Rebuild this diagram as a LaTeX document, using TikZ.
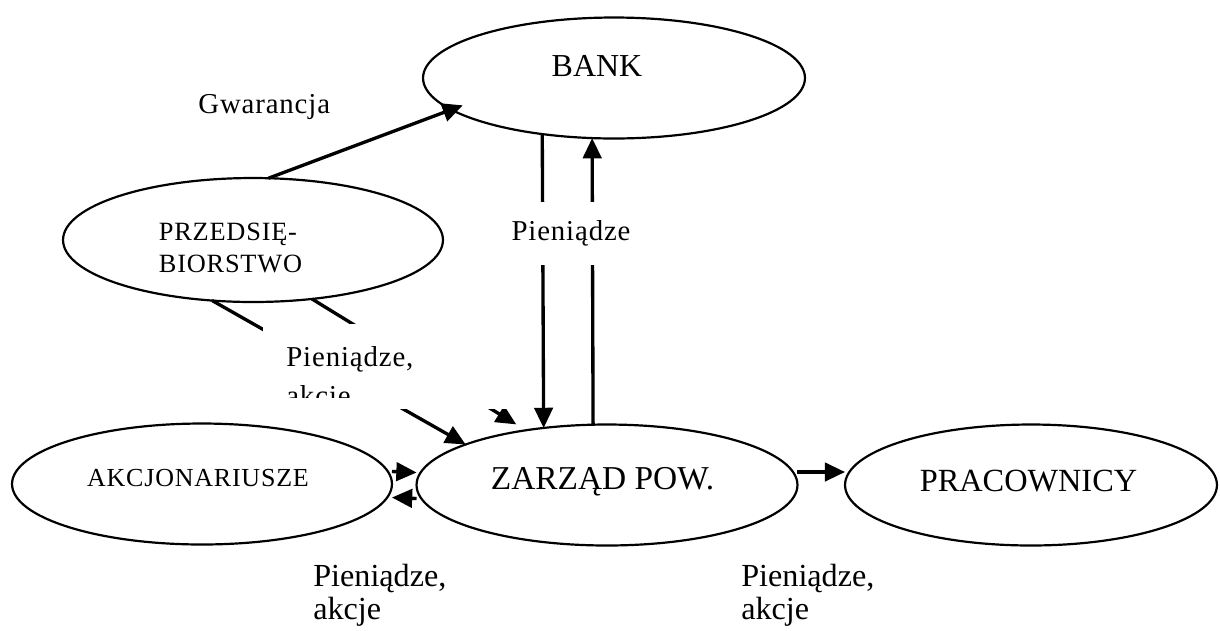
\documentclass[tikz,border=0pt]{standalone}
\usepackage{fontspec}
\setmainfont{Liberation Serif}
\newfontfamily\spaced[LetterSpace=3]{Liberation Serif}
\usetikzlibrary{shapes.geometric,arrows.meta}
\begin{document}
\begin{tikzpicture}[x=0.02cm,y=-0.02cm,
  ell/.style={draw, ellipse, line width=1.25pt, inner sep=0pt, outer sep=0pt},
  arr/.style={line width=1.9pt, -{Triangle[length=11.5pt,width=10.5pt]}},
  cov/.style={fill=white, inner sep=0pt},
  txt/.style={inner sep=0pt}]
\useasboundingbox (0,0) rectangle (1220,630);

% ellipses
\node[ell, minimum width=7.64cm, minimum height=2.42cm,
  label={[txt, font=\fontsize{18.2}{20}\selectfont, xshift=-0.34cm, yshift=0.24cm]center:BANK}] (bank) at (614,78) {};
\node[ell, minimum width=7.6cm, minimum height=2.48cm,
  label={[txt, align=left, font=\spaced\fontsize{15}{18.2}\selectfont, xshift=-0.45cm, yshift=-0.15cm]center:PRZEDSIĘ-\\BIORSTWO}] (przeds) at (253,240) {};
\node[ell, minimum width=7.6cm, minimum height=2.42cm,
  label={[txt, font=\spaced\fontsize{14.8}{16}\selectfont, xshift=-0.08cm, yshift=0.12cm]center:AKCJONARIUSZE}] (akcj) at (202,484) {};
\node[ell, minimum width=7.62cm, minimum height=2.42cm,
  label={[txt, font=\fontsize{19}{21}\selectfont, xshift=-0.09cm, yshift=0.06cm]center:ZARZĄD POW.}] (zarzad) at (607,485) {};
\node[ell, minimum width=7.44cm, minimum height=2.42cm,
  label={[txt, font=\fontsize{18.4}{20}\selectfont, xshift=-0.05cm, yshift=0.08cm]center:PRACOWNICY}] (prac) at (1031,485) {};

% connectors
\draw[arr, shorten >=-7pt] (przeds.76.9) -- (bank.191.7);
\draw[arr] (bank.218.4) -- (zarzad.138.3);
\draw[arr] (zarzad.103.1) -- (bank.250.7);
\draw[arr] (przeds.236.6) -- (zarzad.164.8);
\draw[arr, shorten >=6.4pt] (przeds.315.6) -- (zarzad.146.1);
\draw[arr] ([yshift=0.25cm]akcj.east) -- ([yshift=0.25cm]zarzad.west);
\draw[arr] ([yshift=-0.27cm]zarzad.west) -- ([yshift=-0.27cm]akcj.east);
\draw[arr] ([yshift=0.26cm]zarzad.east) -- ([yshift=0.26cm]prac.west);

% labels
\node[txt, anchor=base west, font=\spaced\fontsize{16.4}{18}\selectfont] (gw) at (198,113) {Gwarancja};
\node[cov, minimum width=2.7cm, minimum height=1.26cm, font=\spaced\fontsize{16.4}{18}\selectfont] (toplbl) at (571,233.5) {Pieniądze};
\node[cov, minimum width=5.34cm, minimum height=1.7cm] (midbox) at (396.5,366.5) {};
\begin{scope}
  \clip (263,324) rectangle (530,397);
  \node[txt, anchor=north west, align=left, font=\spaced\fontsize{16.4}{22}\selectfont] (midtxt) at (286,346) {Pieniądze,\\akcje};
\end{scope}
\node[txt, anchor=north west, align=left, font=\fontsize{18.3}{18.8}\selectfont] (lbl1) at (313,564) {Pieniądze,\\akcje};
\node[txt, anchor=north west, align=left, font=\fontsize{18.3}{18.8}\selectfont] (lbl2) at (741,564) {Pieniądze,\\akcje};
\end{tikzpicture}
\end{document}
